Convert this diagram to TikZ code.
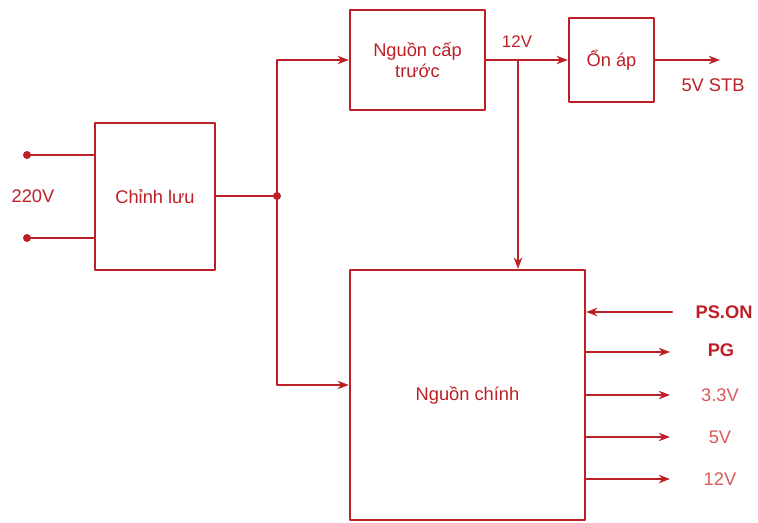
\documentclass[tikz,border=0pt]{standalone}
\usepackage{fontspec}
\setmainfont{Liberation Sans}
\usepackage{tikz}
\usetikzlibrary{arrows.meta}
\definecolor{dred}{HTML}{BE1E26}
\definecolor{lred}{HTML}{D85A5A}
\tikzset{
  every picture/.style={line join=round, line cap=round, >={Stealth[length=8pt,width=6pt]}},
  block/.style={draw=dred, line width=1.7pt, text=dred, align=center, font=\fontsize{13}{15}\selectfont},
  lbl/.style={text=dred, font=\fontsize{13}{15}\selectfont},
  wire/.style={dred, line width=1.6pt},
}

\begin{document}
\begin{tikzpicture}[x=0.025cm,y=-0.025cm]
\useasboundingbox(0,0)rectangle(758,523);
% blocks
\node[block,minimum width=3cm,minimum height=3.675cm](rect)at(155,196.5){Chỉnh lưu};
\node[block,minimum width=3.375cm,minimum height=2.5cm](pre)at(417.5,60){Nguồn cấp\\trước};
\node[block,minimum width=2.125cm,minimum height=2.1cm](reg)at(611.5,60){Ổn áp};
\node[block,minimum width=5.875cm,minimum height=6.25cm](main)at(467.5,395){Nguồn chính};
% input
\coordinate(in1)at(27,155);
\coordinate(in2)at(27,238);
\node[lbl](ac)at(33,196){220V};
\draw[wire](in1)--(in1-|rect.west) (in2)--(in2-|rect.west);
\fill[dred](in1)circle(4) (in2)circle(4);
% split
\coordinate(j)at(277,196);
\draw[wire](rect.east|-j)--(j);
\fill[dred](j)circle(4);
\draw[wire,->](j)|-(pre.west);
\draw[wire,->](j)|-(main.west|-0,385);
% standby
\coordinate(k)at(518,60);
\node[lbl,font=\fontsize{12}{14}\selectfont](v12)at(517,42){12V};
\draw[wire,->](pre.east)--(reg.west);
\draw[wire,->](k)--(k|-main.north);
\coordinate(stb)at(720,60);
\draw[wire,->](reg.east)--(stb);
\node[lbl](stbl)at(713,85){5V STB};
% outputs
\node[lbl,font=\bfseries\fontsize{13}{15}\selectfont](pson)at(724,312){PS.ON};
\coordinate(psend)at(672,312);
\draw[wire,->](psend)--(main.east|-psend);
\node[lbl,font=\bfseries\fontsize{13}{15}\selectfont](pg)at(721,350){PG};
\coordinate(pgend)at(670,352);
\draw[wire,->](main.east|-pgend)--(pgend);
\foreach \y/\t/\n in {395/3.3V/o33,437/5V/o5,479/12V/o12}{
  \node[lbl,text=lred](\n)at(720,\y){\t};
  \coordinate(\n end)at(670,\y);
  \draw[wire,->](main.east|-\n end)--(\n end);
}
\end{tikzpicture}
\end{document}
